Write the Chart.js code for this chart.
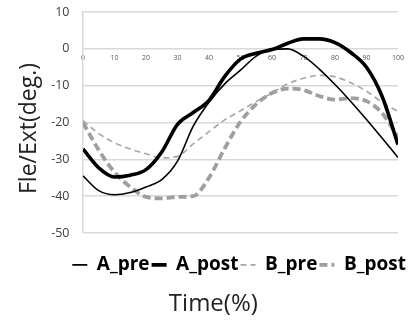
<!DOCTYPE html>
<html>
<head>
<meta charset="utf-8">
<script src="https://cdn.jsdelivr.net/npm/chart.js@4.4.1/dist/chart.umd.min.js"></script>
<style>
  html, body { margin: 0; padding: 0; background: #fff; }
  #wrap { width: 409px; height: 322px; position: relative; }
</style>
</head>
<body>
<div id="wrap"><canvas id="chart"></canvas></div>
<script>
// time axis (%), sampled every 5
const time = [0, 5, 10, 15, 20, 25, 30, 35, 40, 45, 50, 55, 60, 65, 70, 75, 80, 85, 90, 95, 100];

// flexion / extension angle (deg.)
const aPre  = [-34.5, -38.5, -39.6, -39.0, -37.5, -35.5, -30.5, -21.0, -14.5, -9.5, -5.8, -2.0, -0.2, 0.0, -2.0, -5.5, -9.7, -14.3, -19.2, -24.3, -29.5];
const aPost = [-27.2, -32.3, -34.8, -34.3, -32.8, -28.0, -20.5, -17.3, -14.0, -7.5, -2.8, -1.2, -0.2, 1.5, 2.7, 2.7, 1.7, -1.0, -5.0, -13.0, -26.0];
const bPre  = [-19.5, -23.0, -25.5, -27.2, -28.5, -29.6, -29.2, -25.8, -22.5, -19.3, -16.8, -14.3, -12.0, -9.5, -8.0, -7.2, -7.6, -9.2, -11.5, -14.5, -17.0];
const bPost = [-20.0, -27.5, -33.5, -37.5, -40.2, -40.6, -40.2, -40.0, -35.0, -27.0, -19.8, -15.0, -12.0, -10.8, -11.2, -12.8, -13.8, -13.4, -14.2, -17.5, -24.0];

const seriesNames = ['A_pre', 'A_post', 'B_pre', 'B_post'];
const xTicks = [0, 10, 20, 30, 40, 50, 60, 70, 80, 90, 100];
const yTicks = [-50, -40, -30, -20, -10, 0, 10];

Chart.defaults.font.family = "'Open Sans', sans-serif";

const styles = [
  { color: '#000000', width: 1.6, dash: [] },
  { color: '#000000', width: 3.6, dash: [] },
  { color: '#a6a6a6', width: 1.6, dash: [6, 4] },
  { color: '#9f9f9f', width: 3.8, dash: [8, 4] }
];

const values = [aPre, aPost, bPre, bPost];

const datasets = values.map((vals, i) => ({
  label: seriesNames[i],
  data: vals.map((v, j) => ({ x: time[j], y: v })),
  borderColor: styles[i].color,
  backgroundColor: styles[i].color,
  borderWidth: styles[i].width,
  borderDash: styles[i].dash,
  pointRadius: 0,
  cubicInterpolationMode: 'monotone',
  fill: false
}));

// legend entries drawn as short line samples with the dataset's dash
function lineLabels(chart) {
  return chart.data.datasets.map((ds, i) => ({
    text: ds.label,
    datasetIndex: i,
    fillStyle: ds.borderColor,
    strokeStyle: ds.borderColor,
    fontColor: '#000000',
    lineWidth: ds.borderWidth,
    lineDash: ds.borderDash,
    lineCap: 'butt',
    pointStyle: 'line',
    hidden: false
  }));
}

new Chart(document.getElementById('chart'), {
  type: 'line',
  data: { datasets: datasets },
  options: {
    responsive: true,
    maintainAspectRatio: false,
    animation: false,
    layout: { padding: { top: 12, right: 1, bottom: 3.6, left: 0 } },
    scales: {
      x: {
        type: 'linear',
        position: { y: 0 },
        min: 0,
        max: 100,
        afterBuildTicks: scale => { scale.ticks = xTicks.map(v => ({ value: v })); },
        grid: { display: false, drawTicks: false },
        border: { display: false },
        ticks: { font: { size: 7 }, color: '#595959', padding: 5, maxRotation: 0 }
      },
      y: {
        min: -50,
        max: 10,
        afterBuildTicks: scale => { scale.ticks = yTicks.map(v => ({ value: v })); },
        afterFit: scale => { scale.width = 83; },
        grid: { color: '#d9d9d9', lineWidth: 1.5, tickLength: 13.5, tickColor: 'rgba(0,0,0,0)' },
        border: { color: '#d9d9d9', width: 1.5 },
        ticks: { font: { size: 12.5 }, color: '#404040', padding: 0 },
        title: {
          display: true,
          text: 'Fle/Ext(deg.)  ',
          font: { size: 23 },
          color: '#222222',
          padding: { top: 16, bottom: 0 }
        }
      }
    },
    plugins: {
      legend: {
        position: 'bottom',
        align: 'end',
        title: { display: true, text: '', font: { size: 12 }, padding: { top: 3, bottom: 3 } },
        labels: {
          usePointStyle: true,
          pointStyleWidth: 15,
          boxWidth: 15,
          padding: 2,
          color: '#000000',
          font: { size: 19, weight: 'bold' },
          generateLabels: lineLabels
        }
      },
      title: {
        display: true,
        position: 'bottom',
        text: '   Time(%)',
        color: '#222222',
        font: { size: 24, weight: 'normal' },
        padding: { top: 5.2, bottom: 0 }
      },
      tooltip: { enabled: false }
    }
  }
});
</script>
</body>
</html>
